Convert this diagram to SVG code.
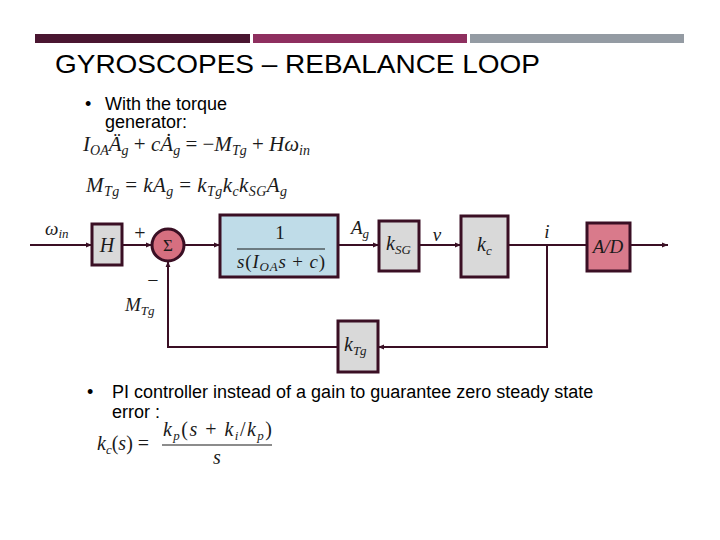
<svg xmlns="http://www.w3.org/2000/svg" width="720" height="540" viewBox="0 0 720 540">
<style>
.t{font-family:"Liberation Sans",Arial,sans-serif;fill:#000}
.m{font-family:"Liberation Serif","Times New Roman",serif;font-style:italic;fill:#1a1a1a}
.r{font-style:normal}
.blk{stroke:#3a0f24;stroke-width:3}
.ln{stroke:#3a0f24;stroke-width:2;fill:none}
</style>
<defs>
<marker id="ah" viewBox="0 0 10 10" refX="10" refY="5" markerWidth="6" markerHeight="6" orient="auto" markerUnits="userSpaceOnUse">
<path d="M0,1 L10,5 L0,9 z" fill="#3a0f24"/>
</marker>
</defs>
<rect width="720" height="540" fill="#fff"/>
<rect x="35" y="34" width="215" height="9" fill="#4a1631"/>
<rect x="253" y="34" width="214" height="9" fill="#8e2f5f"/>
<rect x="470" y="34" width="214" height="9" fill="#949ba3"/>
<text class="t" x="55" y="73" font-size="26" textLength="485" lengthAdjust="spacingAndGlyphs">GYROSCOPES – REBALANCE LOOP</text>
<text class="t" x="85" y="110" font-size="18">•</text>
<text class="t" x="105" y="110" font-size="18">With the torque</text>
<text class="t" x="105" y="128" font-size="18">generator:</text>
<text class="m" x="83" y="151" font-size="21" textLength="227" lengthAdjust="spacing">I<tspan font-size="14" dy="4">OA</tspan><tspan dy="-4">Ä</tspan><tspan font-size="14" dy="4">g</tspan><tspan class="r" dy="-4"> + </tspan>cȦ<tspan font-size="14" dy="4">g</tspan><tspan class="r" dy="-4"> = −</tspan>M<tspan font-size="14" dy="4">Tg</tspan><tspan class="r" dy="-4"> + </tspan>Hω<tspan font-size="14" dy="4">in</tspan></text>
<text class="m" x="86" y="192" font-size="21" textLength="201" lengthAdjust="spacing">M<tspan font-size="14" dy="4">Tg</tspan><tspan class="r" dy="-4"> = </tspan>kA<tspan font-size="14" dy="4">g</tspan><tspan class="r" dy="-4"> = </tspan>k<tspan font-size="14" dy="4">Tg</tspan><tspan dy="-4">k</tspan><tspan font-size="14" dy="4">c</tspan><tspan dy="-4">k</tspan><tspan font-size="14" dy="4">SG</tspan><tspan dy="-4">A</tspan><tspan font-size="14" dy="4">g</tspan></text>
<g id="connectors">
<line class="ln" x1="30" y1="245" x2="92" y2="245" marker-end="url(#ah)"/>
<line class="ln" x1="122" y1="245" x2="152" y2="245" marker-end="url(#ah)"/>
<line class="ln" x1="184" y1="245" x2="220" y2="245" marker-end="url(#ah)"/>
<line class="ln" x1="338" y1="245" x2="379" y2="245" marker-end="url(#ah)"/>
<line class="ln" x1="419" y1="245" x2="461" y2="245" marker-end="url(#ah)"/>
<line class="ln" x1="508" y1="245" x2="587" y2="245"/>
<line class="ln" x1="630" y1="245" x2="668" y2="245" marker-end="url(#ah)"/>
<polyline class="ln" points="547,245 547,347 378,347" marker-end="url(#ah)"/>
<polyline class="ln" points="338,347 168,347 168,261" marker-end="url(#ah)"/>
</g>
<g id="n-H"><rect class="blk" x="92" y="224" width="30" height="41" fill="#d9d9d9"/><text class="m" x="107" y="252" font-size="20" text-anchor="middle">H</text></g>
<g id="n-sum"><circle class="blk" cx="168" cy="245" r="16" fill="#d66f80"/><text class="m r" x="168" y="251" font-size="17" text-anchor="middle">Σ</text></g>
<g id="n-plant"><rect class="blk" x="220" y="215" width="118" height="62" fill="#bfdce8"/>
<text class="m r" x="280" y="239" font-size="19" text-anchor="middle">1</text>
<line x1="237" y1="249" x2="325" y2="249" stroke="#1a1a1a" stroke-width="1.2"/>
<text class="m" x="237" y="268" font-size="19" textLength="88" lengthAdjust="spacing">s<tspan class="r">(</tspan>I<tspan font-size="13" dy="3">OA</tspan><tspan dy="-3">s</tspan><tspan class="r"> + </tspan>c<tspan class="r">)</tspan></text></g>
<g id="n-ksg"><rect class="blk" x="379" y="221" width="40" height="50" fill="#d9d9d9"/><text class="m" x="386" y="250" font-size="20">k<tspan font-size="13" dy="4">SG</tspan></text></g>
<g id="n-kc"><rect class="blk" x="461" y="216" width="47" height="61" fill="#d9d9d9"/><text class="m" x="477" y="251" font-size="20">k<tspan font-size="13" dy="4">c</tspan></text></g>
<g id="n-ad"><rect class="blk" x="587" y="223" width="43" height="48" fill="#d97a8b"/><text class="m" x="608" y="253" font-size="19" text-anchor="middle">A/D</text></g>
<g id="n-ktg"><rect class="blk" x="338" y="321" width="40" height="51" fill="#d9d9d9"/><text class="m" x="344" y="351" font-size="20">k<tspan font-size="13" dy="4">Tg</tspan></text></g>
<text class="m" x="45" y="235" font-size="19">ω<tspan font-size="13" dy="3">in</tspan></text>
<text class="m r" x="140" y="240" font-size="20" text-anchor="middle">+</text>
<text class="m r" x="153" y="287" font-size="20" text-anchor="middle">−</text>
<text class="m" x="125" y="311" font-size="19">M<tspan font-size="13" dy="4">Tg</tspan></text>
<text class="m" x="351" y="234" font-size="19">A<tspan font-size="13" dy="4">g</tspan></text>
<text class="m" x="437" y="241" font-size="19" text-anchor="middle">v</text>
<text class="m" x="547" y="238" font-size="19" text-anchor="middle">i</text>
<text class="t" x="87" y="398" font-size="18">•</text>
<text class="t" x="112" y="398" font-size="18">PI controller instead of a gain to guarantee zero steady state</text>
<text class="t" x="112" y="418" font-size="18">error :</text>
<text class="m" x="97" y="450" font-size="20">k<tspan font-size="13" dy="4">c</tspan><tspan class="r" dy="-4">(</tspan>s<tspan class="r">) =</tspan></text>
<text class="m" x="163" y="436" font-size="20" textLength="109" lengthAdjust="spacing">k<tspan font-size="13" dy="4">p</tspan><tspan class="r" dy="-4">(</tspan>s<tspan class="r"> + </tspan>k<tspan font-size="13" dy="4">i</tspan><tspan class="r" dy="-4">/</tspan>k<tspan font-size="13" dy="4">p</tspan><tspan class="r" dy="-4">)</tspan></text>
<line x1="162" y1="445" x2="272" y2="445" stroke="#1a1a1a" stroke-width="1.2"/>
<text class="m" x="217" y="464" font-size="20" text-anchor="middle">s</text>
</svg>
